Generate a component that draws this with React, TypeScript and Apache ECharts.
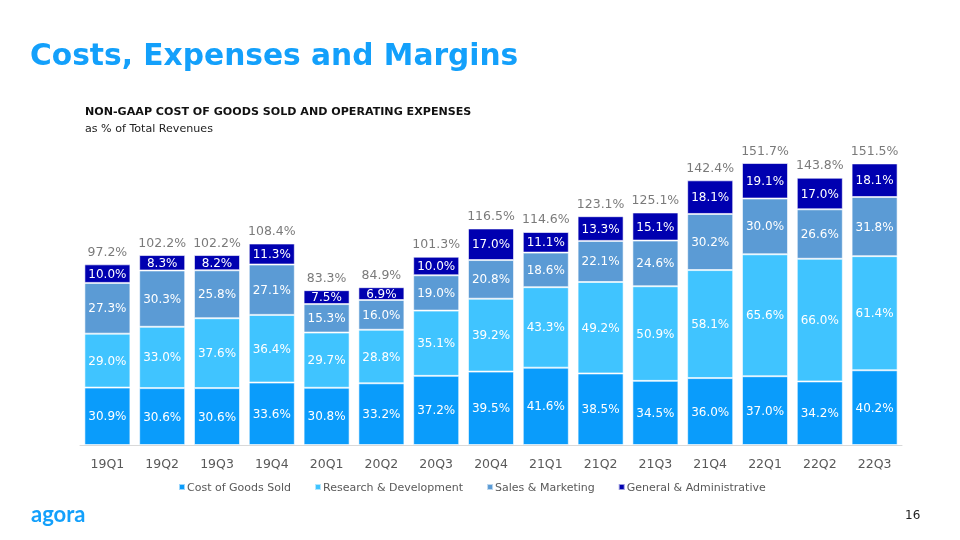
import React, { useEffect, useRef } from "react";
import * as echarts from "echarts";

const categories = ["19Q1","19Q2","19Q3","19Q4","20Q1","20Q2","20Q3","20Q4","21Q1","21Q2","21Q3","21Q4","22Q1","22Q2","22Q3"];
const cogs = [30.9,30.6,30.6,33.6,30.8,33.2,37.2,39.5,41.6,38.5,34.5,36.0,37.0,34.2,40.2];
const rnd = [29.0,33.0,37.6,36.4,29.7,28.8,35.1,39.2,43.3,49.2,50.9,58.1,65.6,66.0,61.4];
const snm = [27.3,30.3,25.8,27.1,15.3,16.0,19.0,20.8,18.6,22.1,24.6,30.2,30.0,26.6,31.8];
const gna = [10.0,8.3,8.2,11.3,7.5,6.9,10.0,17.0,11.1,13.3,15.1,18.1,19.1,17.0,18.1];
const totals = [97.2,102.2,102.2,108.4,83.3,84.9,101.3,116.5,114.6,123.1,125.1,142.4,151.7,143.8,151.5];

const seriesNames = ["Cost of Goods Sold","Research & Development","Sales & Marketing","General & Administrative"];
const colors = ["#0a9cfb","#40c4ff","#5b9bd5","#0000b0"];

const FONT = "DejaVu Sans";

export default function App() {
  const ref = useRef<HTMLDivElement>(null);
  useEffect(() => {
    document.body.style.margin = "0";
    const chart = echarts.init(ref.current!, null, { renderer: "svg" });
    const data = [cogs, rnd, snm, gna];
    const barSeries = data.map((d, i) => ({
      name: seriesNames[i],
      type: "bar",
      stack: "total",
      barCategoryGap: "16%",
      data: d,
      itemStyle: { color: colors[i], borderColor: "rgba(255,255,255,0.6)", borderWidth: 1 },
      label: {
        show: true,
        position: "inside",
        color: "#ffffff",
        fontFamily: FONT,
        fontSize: 12,
        formatter: (p: any) => p.value.toFixed(1) + "%",
      },
      emphasis: { disabled: true },
    }));
    chart.setOption({
      animation: false,
      textStyle: { fontFamily: FONT },
      title: [
        {
          text: "Costs, Expenses and Margins",
          left: 25,
          top: 34,
          textStyle: { color: "#13a0fb", fontSize: 29.7, fontWeight: "bold", fontFamily: FONT },
        },
        {
          text: "NON-GAAP COST OF GOODS SOLD AND OPERATING EXPENSES",
          left: 80,
          top: 101,
          textStyle: { color: "#111", fontSize: 11.1, fontWeight: "bold", fontFamily: FONT },
        },
        {
          text: "as % of Total Revenues",
          left: 80,
          top: 117.5,
          textStyle: { color: "#222", fontSize: 11.1, fontWeight: "normal", fontFamily: FONT },
        },
        {
          text: "agora",
          left: 26,
          top: 497,
          textStyle: { color: "#13a0fb", fontSize: 22, fontWeight: "bold", fontFamily: "Lato" },
        },
        {
          text: "16",
          left: 900,
          top: 504,
          textStyle: { color: "#222", fontSize: 12, fontWeight: "normal", fontFamily: FONT },
        },
      ],
      legend: {
        top: 476.5,
        left: 173,
        itemWidth: 6,
        itemHeight: 6,
        itemGap: 23,
        icon: "rect",
        data: seriesNames,
        textStyle: { color: "#595959", fontSize: 11, fontFamily: FONT, padding: [0, 0, 0, -3] },
      },
      grid: { left: 80, width: 822, top: 147.6, bottom: 95, containLabel: false },
      xAxis: {
        type: "category",
        data: categories,
        axisLine: { lineStyle: { color: "#d9d9d9", width: 1 } },
        axisTick: { show: false },
        axisLabel: { color: "#595959", fontSize: 12.5, fontFamily: FONT, margin: 12 },
      },
      yAxis: {
        type: "value",
        min: 0,
        max: 160,
        show: false,
        splitLine: { show: false },
      },
      series: [
        ...barSeries,
        {
          name: "Total",
          type: "scatter",
          data: totals,
          symbolSize: 1,
          itemStyle: { color: "rgba(0,0,0,0)" },
          label: {
            show: true,
            position: "top",
            distance: 6,
            color: "#595959",
            fontSize: 12.5,
            fontFamily: FONT,
            formatter: (p: any) => p.value.toFixed(1) + "%",
          },
          emphasis: { disabled: true },
          silent: true,
        },
      ],
    });
    return () => chart.dispose();
  }, []);
  return <div ref={ref} style={{ position: "fixed", left: 0, top: 0, width: 960, height: 540 }} />;
}
